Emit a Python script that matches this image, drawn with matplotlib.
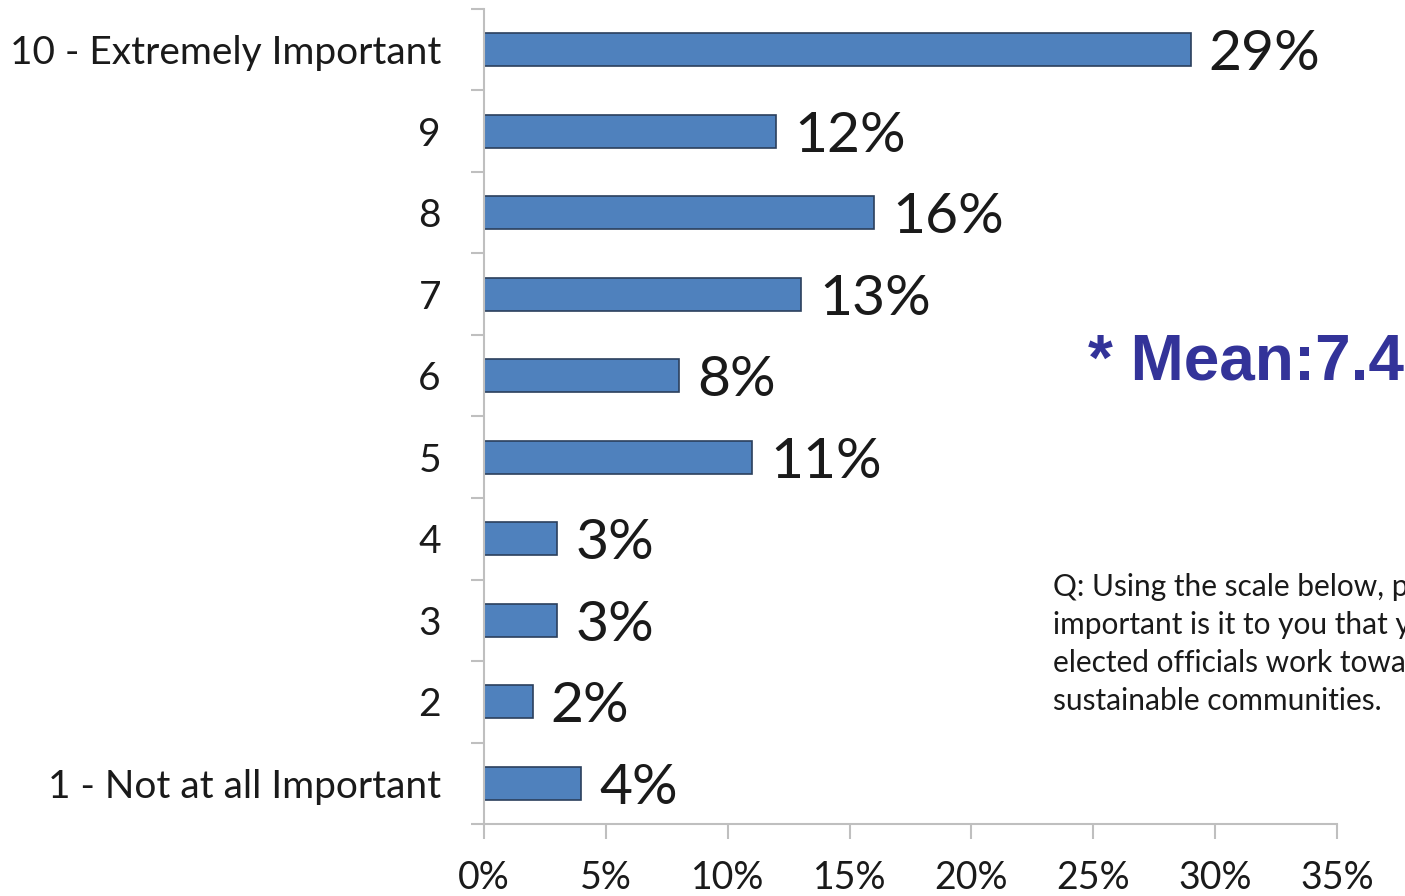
import numpy as np
import matplotlib.pyplot as plt

categories = ['1 - Not at all Important', '2', '3', '4', '5', '6', '7', '8', '9',
              '10 - Extremely Important']
values = [4, 2, 3, 3, 11, 8, 13, 16, 12, 29]
xticks = [0, 5, 10, 15, 20, 25, 30, 35]
mean_text = '* Mean:7.4'
question = ('Q: Using the scale below, please rate how\n'
            'important is it to you that your\n'
            'elected officials work toward\n'
            'sustainable communities.')

font = 'Lato'
grey = '#BFBFBF'
ink = '#1A1A1A'

fig = plt.figure(figsize=(14.05, 8.96), dpi=100)
ax = fig.add_axes([484 / 1405, 72 / 896, 853 / 1405, 815 / 896])

y = np.arange(len(categories))
ax.barh(y, values, height=0.4, color='#4F81BD', edgecolor='#2B3F5C', linewidth=1.2)

for yi, v in zip(y, values):
    ax.annotate(f'{v}%', (v, yi), xytext=(13, 0), textcoords='offset points',
                va='center_baseline', ha='left', fontsize=41, family=font, color=ink)

ax.set_xlim(0, 35)
ax.set_ylim(-0.5, 9.5)
ax.set_xticks(xticks)
ax.set_xticklabels([f'{t}%' for t in xticks], fontsize=27, family=font, color=ink)
ax.set_yticks(y)
ax.set_yticklabels(categories, fontsize=28, family=font, color=ink)
ax.set_yticks(np.arange(-0.5, 10, 1), minor=True)

ax.tick_params(axis='y', which='major', length=0, pad=31)
ax.tick_params(axis='y', which='minor', length=9.5, width=1.5, color=grey, direction='out')
ax.tick_params(axis='x', length=11, width=1.5, color=grey, direction='out', pad=15)

for s in ['top', 'right']:
    ax.spines[s].set_visible(False)
for s in ['left', 'bottom']:
    ax.spines[s].set_color(grey)
    ax.spines[s].set_linewidth(1.5)

fig.text(1088 / 1405, 1 - 362 / 896, mean_text, fontsize=46, fontweight='bold',
         family='Liberation Sans', color='#333399', va='center', ha='left')
fig.text(1053 / 1405, 1 - 573 / 896, question, fontsize=21.5, family=font, color=ink,
         va='top', ha='left', linespacing=1.44)

fig.savefig('out.png', dpi=100)
